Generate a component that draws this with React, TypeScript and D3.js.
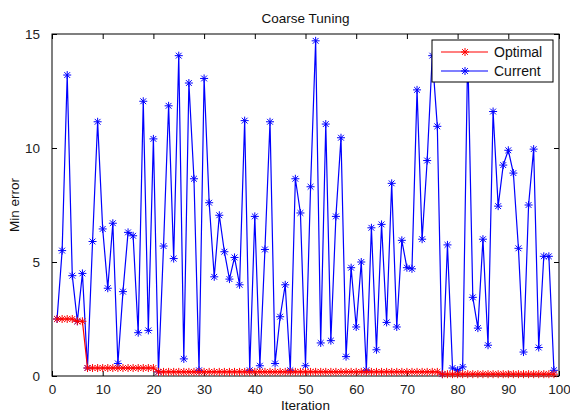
import * as d3 from "d3";
import React, { useRef, useEffect } from "react";

// Coarse tuning run (iteration 1..99)
const currentErr = [
  2.5, 5.5, 13.2, 4.4, 2.4, 4.5, 0.35, 5.9, 11.15, 6.45,
  3.85, 6.7, 0.55, 3.7, 6.3, 6.15, 1.9, 12.05, 2.0, 10.4,
  0.18, 5.7, 11.85, 5.15, 14.05, 0.75, 12.85, 8.65, 0.25, 13.05,
  7.6, 4.35, 7.05, 5.45, 4.25, 5.2, 4.0, 11.2, 0.25, 7.0,
  0.45, 5.55, 11.15, 0.55, 2.6, 4.0, 0.25, 8.65, 7.15, 0.45,
  8.3, 14.7, 1.45, 11.05, 1.55, 7.0, 10.45, 0.85, 4.75, 2.15,
  5.0, 0.25, 6.5, 1.15, 6.65, 2.35, 8.45, 2.15, 5.95, 4.75,
  4.7, 12.55, 6.0, 9.45, 14.05, 10.95, 0.08, 5.75, 0.35, 0.25,
  0.4, 14.3, 3.45, 2.1, 6.0, 1.35, 11.6, 7.45, 9.25, 9.9,
  8.9, 5.6, 1.05, 7.5, 9.95, 1.25, 5.25, 5.25, 0.25,
];

const optimalErr = [
  2.5, 2.5, 2.5, 2.5, 2.4, 2.4, 0.35, 0.35, 0.35, 0.35,
  0.35, 0.35, 0.35, 0.35, 0.35, 0.35, 0.35, 0.35, 0.35, 0.35,
  0.18, 0.18, 0.18, 0.18, 0.18, 0.18, 0.18, 0.18, 0.18, 0.18,
  0.18, 0.18, 0.18, 0.18, 0.18, 0.18, 0.18, 0.18, 0.18, 0.18,
  0.18, 0.18, 0.18, 0.18, 0.18, 0.18, 0.18, 0.18, 0.18, 0.18,
  0.18, 0.18, 0.18, 0.18, 0.18, 0.18, 0.18, 0.18, 0.18, 0.18,
  0.18, 0.18, 0.18, 0.18, 0.18, 0.18, 0.18, 0.18, 0.18, 0.18,
  0.18, 0.18, 0.18, 0.18, 0.18, 0.18, 0.08, 0.08, 0.08, 0.08,
  0.08, 0.08, 0.08, 0.08, 0.08, 0.08, 0.08, 0.08, 0.08, 0.08,
  0.08, 0.08, 0.08, 0.08, 0.08, 0.08, 0.08, 0.08, 0.08,
];

const xTicks = [0, 10, 20, 30, 40, 50, 60, 70, 80, 90, 100];
const yTicks = [0, 5, 10, 15];
const seriesNames = ["Optimal", "Current"];

const W = 570;
const H = 412;
const margin = { top: 34, right: 11, bottom: 36, left: 52 };
const FONT = "'Liberation Sans', Arial, Helvetica, sans-serif";

function drawStar(g: any, cx: number, cy: number, color: string) {
  const a = 4;
  const b = 2.9;
  const path = `M${cx - a},${cy}H${cx + a}M${cx},${cy - a}V${cy + a}` +
    `M${cx - b},${cy - b}L${cx + b},${cy + b}M${cx - b},${cy + b}L${cx + b},${cy - b}`;
  g.append("path").attr("d", path).attr("stroke", color).attr("stroke-width", 1).attr("fill", "none");
}

function TuningChart() {
  const ref = useRef<SVGSVGElement>(null);

  useEffect(() => {
    const svg = d3.select(ref.current);
    svg.selectAll("*").remove();
    const width = W - margin.left - margin.right;
    const height = H - margin.top - margin.bottom;

    var x = d3.scaleLinear().domain([0, 100]).range([margin.left, margin.left + width]);
    var y = d3.scaleLinear().domain([0, 15]).range([margin.top + height, margin.top]);

    svg.append("rect").attr("width", W).attr("height", H).attr("fill", "#fff");

    // axes, MATLAB style: ticks inside on all four sides
    const tickLen = 5;
    const axB = svg.append("g").attr("transform", `translate(0,${margin.top + height})`)
      .call(d3.axisBottom(x).tickValues(xTicks).tickSizeInner(-tickLen).tickSizeOuter(0).tickPadding(8));
    const axT = svg.append("g").attr("transform", `translate(0,${margin.top})`)
      .call(d3.axisTop(x).tickValues(xTicks).tickSizeInner(-tickLen).tickSizeOuter(0).tickFormat(() => ""));
    const axL = svg.append("g").attr("transform", `translate(${margin.left},0)`)
      .call(d3.axisLeft(y).tickValues(yTicks).tickSizeInner(-tickLen).tickSizeOuter(0).tickPadding(12));
    const axR = svg.append("g").attr("transform", `translate(${margin.left + width},0)`)
      .call(d3.axisRight(y).tickValues(yTicks).tickSizeInner(-tickLen).tickSizeOuter(0).tickFormat(() => ""));
    [axB, axT, axL, axR].forEach((a) => {
      a.select(".domain").remove();
      a.selectAll("line").attr("stroke", "#000");
      a.selectAll("text").attr("font-family", FONT).attr("font-size", 13.5).attr("fill", "#222");
    });

    svg.append("rect")
      .attr("x", margin.left).attr("y", margin.top)
      .attr("width", width).attr("height", height)
      .attr("fill", "none").attr("stroke", "#000").attr("stroke-width", 1);

    const plot = svg.append("g");
    const line = d3.line<number>().x((d, i) => x(i + 1)).y((d) => y(d));

    // Current (blue)
    plot.append("path").datum(currentErr).attr("d", line)
      .attr("fill", "none").attr("stroke", "#0000ff").attr("stroke-width", 1.2);
    const blueMarks = plot.append("g");
    currentErr.forEach((d, i) => drawStar(blueMarks, x(i + 1), y(d), "#0000ff"));

    // Optimal (red)
    plot.append("path").datum(optimalErr).attr("d", line)
      .attr("fill", "none").attr("stroke", "#ff0000").attr("stroke-width", 1.2);
    const redMarks = plot.append("g");
    optimalErr.forEach((d, i) => drawStar(redMarks, x(i + 1), y(d), "#ff0000"));

    // title and labels
    svg.append("text").attr("x", margin.left + width / 2).attr("y", 23)
      .attr("text-anchor", "middle").attr("font-family", FONT).attr("font-size", 13.5)
      .attr("fill", "#111").text("Coarse Tuning");
    svg.append("text").attr("x", margin.left + width / 2).attr("y", 410)
      .attr("text-anchor", "middle").attr("font-family", FONT).attr("font-size", 13.5)
      .attr("fill", "#111").text("Iteration");
    svg.append("text").attr("transform", `translate(19,${margin.top + height / 2}) rotate(-90)`)
      .attr("text-anchor", "middle").attr("font-family", FONT).attr("font-size", 13.5)
      .attr("fill", "#111").text("Min error");

    // legend
    const lg = svg.append("g");
    lg.append("rect").attr("x", 432).attr("y", 40).attr("width", 121).attr("height", 42)
      .attr("fill", "#fff").attr("stroke", "#000").attr("stroke-width", 1);
    const colors = ["#ff0000", "#0000ff"];
    seriesNames.forEach((name, k) => {
      const cy = 52 + k * 19;
      lg.append("line").attr("x1", 441).attr("x2", 488).attr("y1", cy).attr("y2", cy)
        .attr("stroke", colors[k]).attr("stroke-width", 1.2);
      drawStar(lg, 465, cy, colors[k]);
      lg.append("text").attr("x", 494).attr("y", cy + 5).attr("font-family", FONT)
        .attr("font-size", 14).attr("fill", "#111").text(name);
    });
  }, []);

  return (
    <svg ref={ref} width={W} height={H} style={{ position: "absolute", left: 0, top: 0 }}></svg>
  );
}

export default function App() {
  return <TuningChart />;
}
